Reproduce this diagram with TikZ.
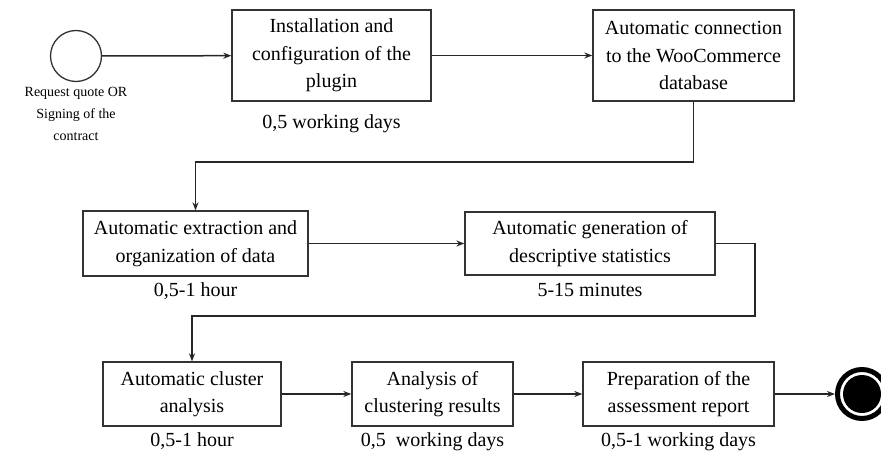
\documentclass[tikz,border=0pt]{standalone}
\usepackage{fontspec}
\setmainfont{Liberation Serif}
\newfontfamily\tnr{Liberation Serif}
\usetikzlibrary{arrows.meta,positioning}
\tikzset{
  task/.style  ={draw=black!80,line width=1.3pt,align=center,inner sep=2pt,font=\tnr\fontsize{20}{27.5}\selectfont},
  dur/.style   ={font=\tnr\fontsize{20}{24}\selectfont,inner sep=0pt},
  flow/.style  ={-{Stealth[length=8pt,width=6pt]},line width=1.5pt,black!85},
}

\begin{document}
\begin{tikzpicture}[x=1pt,y=-1pt]
  \useasboundingbox (0,0) rectangle (881,452);
  % start and end events
  \node[circle,draw=black!80,line width=1.3pt,minimum size=51pt,inner sep=0pt] (start) at (76,56) {};
  \node[below=5pt of start,align=center,inner sep=0pt,font=\tnr\fontsize{14}{22}\selectfont] (startlbl)
       {Request quote OR\\Signing of the\\contract};
  \node[circle,draw=black,line width=5pt,minimum size=49pt,inner sep=0pt] (stop) at (862,394) {};
  \node[circle,fill=black,minimum size=38pt,inner sep=0pt] (stopdot) at (stop) {};
  % tasks
  \node[task,minimum width=199pt,minimum height=91pt] (b1) at (331.5,55.5)
       {Installation and\\configuration of the\\plugin};
  \node[task,minimum width=201pt,minimum height=91pt] (b2) at (693.5,55.5)
       {Automatic connection\\to the WooCommerce\\database};
  \node[task,minimum width=225pt,minimum height=65pt] (b3) at (195.5,243.5)
       {Automatic extraction and\\organization of data};
  \node[task,minimum width=250pt,minimum height=63pt] (b4) at (590,243.5)
       {Automatic generation of\\descriptive statistics};
  \node[task,minimum width=178pt,minimum height=64pt] (b5) at (192,394)
       {Automatic cluster\\analysis};
  \node[task,minimum width=161pt,minimum height=64pt] (b6) at (432.5,394)
       {Analysis of\\clustering results};
  \node[task,minimum width=191pt,minimum height=64pt] (b7) at (678.5,394)
       {Preparation of the\\assessment report};
  % durations
  \node[dur,below=13pt of b1] (t1) {0,5 working days};
  \node[dur,below=6pt of b3] (t3) {0,5-1 hour};
  \node[dur,below=7pt of b4] (t4) {5-15 minutes};
  \node[dur,below=6pt of b5] (t5) {0,5-1 hour};
  \node[dur,below=6pt of b6] (t6) {0,5~ working days};
  \node[dur,below=6pt of b7] (t7) {0,5-1 working days};
  % bends
  \coordinate (k1) at (693.5,162);
  \coordinate (k2) at (755,316);
  % flows
  \draw[flow] (start) -- (b1);
  \draw[flow] (b1) -- (b2);
  \draw[flow] (b2.south) -- (k1) -| (b3.north);
  \draw[flow] (b3) -- (b4);
  \draw[flow] (b4.east) -| (k2) -| (b5.north);
  \draw[flow] (b5) -- (b6);
  \draw[flow] (b6) -- (b7);
  \draw[flow] (b7) -- (stop);
\end{tikzpicture}
\end{document}
